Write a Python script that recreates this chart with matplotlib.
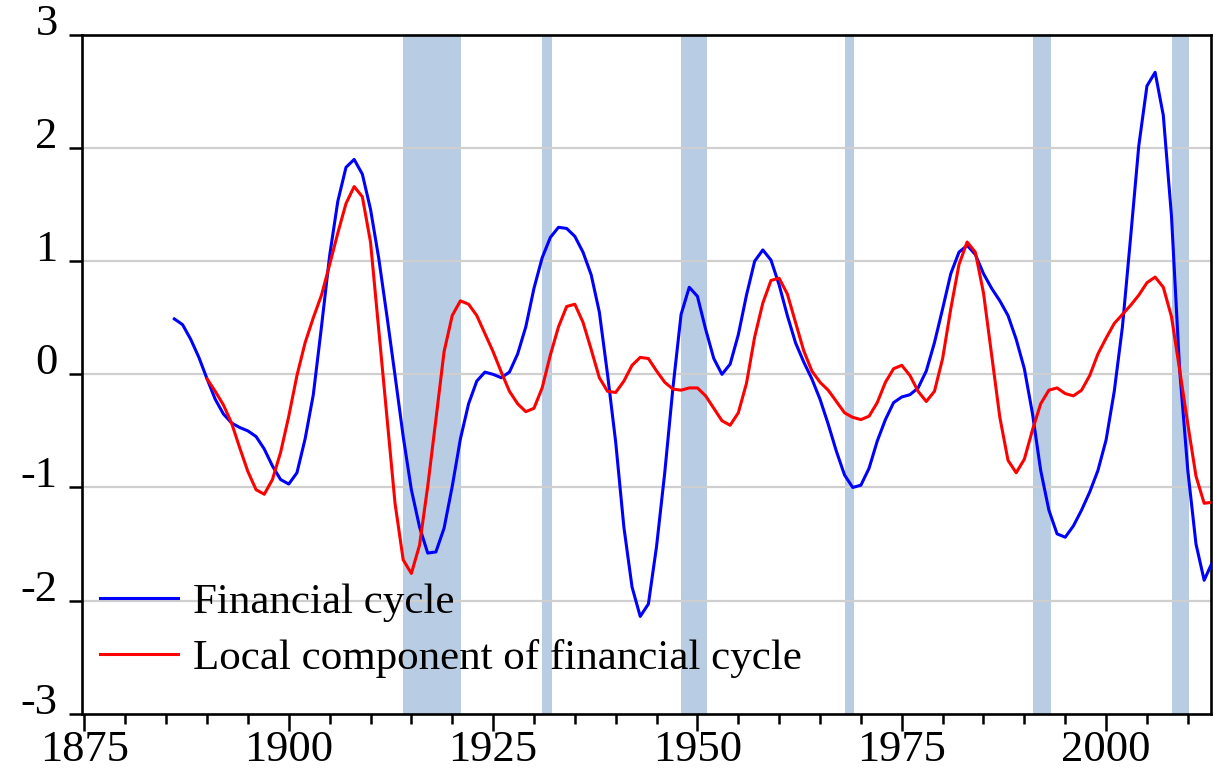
import matplotlib.pyplot as plt
from matplotlib.ticker import MultipleLocator


BLUE_START = 1886
financial_cycle = [
    0.49, 0.44, 0.31, 0.15, -0.04, -0.22, -0.35, -0.43, -0.47, -0.50,   # 1886-1895
    -0.55, -0.66, -0.81, -0.93, -0.97, -0.87, -0.57, -0.18, 0.42, 1.05,  # 1896-1905
    1.53, 1.83, 1.90, 1.77, 1.46, 1.03, 0.52, -0.01, -0.55, -1.02,       # 1906-1915
    -1.35, -1.58, -1.57, -1.36, -0.99, -0.57, -0.26, -0.06, 0.02, 0.00,  # 1916-1925
    -0.03, 0.02, 0.18, 0.42, 0.76, 1.03, 1.21, 1.30, 1.29, 1.22,         # 1926-1935
    1.08, 0.88, 0.55, 0.00, -0.60, -1.35, -1.88, -2.14, -2.03, -1.52,    # 1936-1945
    -0.87, -0.12, 0.53, 0.77, 0.69, 0.40, 0.14, 0.00, 0.09, 0.35,        # 1946-1955
    0.70, 1.00, 1.10, 1.01, 0.79, 0.52, 0.28, 0.11, -0.04, -0.22,        # 1956-1965
    -0.44, -0.68, -0.89, -1.00, -0.98, -0.83, -0.59, -0.40, -0.25, -0.20,  # 1966-1975
    -0.18, -0.12, 0.03, 0.28, 0.58, 0.89, 1.08, 1.14, 1.06, 0.89,        # 1976-1985
    0.76, 0.65, 0.52, 0.31, 0.05, -0.35, -0.85, -1.20, -1.41, -1.44,     # 1986-1995
    -1.34, -1.20, -1.04, -0.85, -0.58, -0.15, 0.42, 1.21, 2.02, 2.55,    # 1996-2005
    2.67, 2.29, 1.40, 0.04, -0.85, -1.50, -1.82, -1.66,                  # 2006-2013
]

RED_START = 1890
local_component = [
    -0.04, -0.15, -0.27, -0.43, -0.65, -0.86,                            # 1890-1895
    -1.02, -1.06, -0.93, -0.69, -0.37, -0.01, 0.28, 0.50, 0.70, 0.97,    # 1896-1905
    1.25, 1.51, 1.66, 1.57, 1.17, 0.40, -0.37, -1.14, -1.64, -1.76,      # 1906-1915
    -1.51, -0.99, -0.40, 0.20, 0.52, 0.65, 0.62, 0.52, 0.36, 0.20,       # 1916-1925
    0.02, -0.15, -0.26, -0.33, -0.30, -0.12, 0.17, 0.42, 0.60, 0.62,     # 1926-1935
    0.46, 0.22, -0.03, -0.15, -0.16, -0.06, 0.08, 0.15, 0.14, 0.03,      # 1936-1945
    -0.07, -0.13, -0.14, -0.12, -0.12, -0.19, -0.30, -0.41, -0.45, -0.34,  # 1946-1955
    -0.08, 0.33, 0.63, 0.83, 0.85, 0.71, 0.46, 0.21, 0.03, -0.07,        # 1956-1965
    -0.14, -0.24, -0.34, -0.38, -0.40, -0.37, -0.25, -0.07, 0.05, 0.08,  # 1966-1975
    -0.01, -0.15, -0.24, -0.15, 0.14, 0.58, 0.97, 1.17, 1.08, 0.72,      # 1976-1985
    0.17, -0.38, -0.76, -0.87, -0.75, -0.49, -0.26, -0.14, -0.12, -0.17,  # 1986-1995
    -0.19, -0.14, -0.01, 0.18, 0.32, 0.45, 0.53, 0.61, 0.70, 0.81,       # 1996-2005
    0.86, 0.77, 0.51, 0.04, -0.44, -0.90, -1.14, -1.13,                  # 2006-2013
]

# Shaded periods (start, end) in years.
band_starts = [1914.0, 1931.0, 1948.0, 1968.1, 1991.1, 2008.1]
band_ends = [1921.1, 1932.2, 1951.2, 1969.2, 1993.2, 2010.2]

SERIES_LABELS = ["Financial cycle", "Local component of financial cycle"]
Y_TICKS = [-3, -2, -1, 0, 1, 2, 3]

plt.rcParams["font.family"] = ["Liberation Serif", "DejaVu Serif"]
plt.rcParams["axes.unicode_minus"] = False


def main() -> None:
    fig = plt.figure(figsize=(12.14, 7.72), dpi=100)
    ax = fig.add_axes([82 / 1214, 1 - 713.7 / 772, 1128.7 / 1214, 678.7 / 772])

    for start, end in zip(band_starts, band_ends):
        ax.axvspan(start, end, color="#b8cce4", lw=0, zorder=0)

    for value in Y_TICKS[1:-1]:
        ax.axhline(value, color="#cfcfcf", lw=1.6, zorder=1)

    blue_years = list(range(BLUE_START, BLUE_START + len(financial_cycle)))
    red_years = list(range(RED_START, RED_START + len(local_component)))
    ax.plot(blue_years, financial_cycle, color="#0000ff", lw=2.2, zorder=3,
            label=SERIES_LABELS[0])
    ax.plot(red_years, local_component, color="#ff0000", lw=2.2, zorder=3,
            label=SERIES_LABELS[1])

    ax.set_xlim(1874.7, 2012.8)
    ax.set_ylim(-3, 3)
    ax.xaxis.set_major_locator(MultipleLocator(25))
    ax.xaxis.set_minor_locator(MultipleLocator(5))
    ax.set_yticks(Y_TICKS)
    ax.set_yticklabels([str(v) for v in Y_TICKS])

    for spine in ax.spines.values():
        spine.set_linewidth(1.9)
    ax.tick_params(axis="x", which="major", direction="out", length=12,
                   width=1.8, labelsize=32, pad=0)
    ax.tick_params(axis="x", which="minor", direction="out", length=7, width=1.8)
    ax.tick_params(axis="y", direction="out", length=9.5, width=1.8,
                   labelsize=32, pad=8)
    for label in ax.get_yticklabels():
        label.set_verticalalignment("baseline")

    ax.legend(loc="upper left", bbox_to_anchor=(0.016, 0.193), frameon=False,
              fontsize=31, handlelength=1.8, handletextpad=0.35,
              labelspacing=0.39, borderaxespad=0, borderpad=0)

    fig.savefig("out.png", dpi=100)
    plt.close(fig)


if __name__ == "__main__":
    main()
